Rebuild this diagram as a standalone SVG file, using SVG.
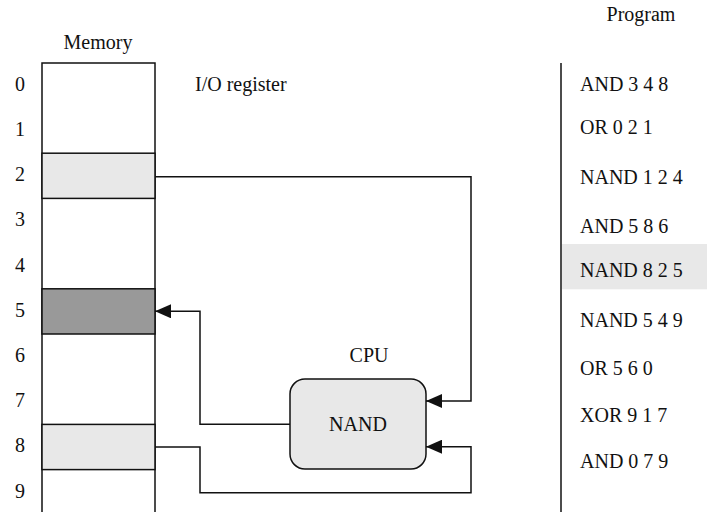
<svg xmlns="http://www.w3.org/2000/svg" width="707" height="512" viewBox="0 0 707 512">
<style>
text{font-family:'Liberation Serif','Times New Roman',Times,serif;font-size:20px;fill:#111}
.cell{stroke:#111;stroke-width:1.5}
.conn{fill:none;stroke:#111;stroke-width:1.5}
</style>
<defs>
<marker id="arr" viewBox="0 0 16 14" refX="16" refY="7" markerWidth="16" markerHeight="14" markerUnits="userSpaceOnUse" orient="auto">
<path d="M0,0 L16,7 L0,14 z" fill="#111"/>
</marker>
</defs>
<rect width="707" height="512" fill="#fff"/>
<g id="memory">
<text x="98" y="49" text-anchor="middle">Memory</text>
<rect x="42" y="63" width="113" height="460" fill="#fff" class="cell"/>
<rect id="cell2" x="42" y="153.2" width="113" height="45.2" fill="#e8e8e8" class="cell"/>
<rect id="cell5" x="42" y="288.8" width="113" height="45.2" fill="#999" class="cell"/>
<rect id="cell8" x="42" y="424.4" width="113" height="45.2" fill="#e8e8e8" class="cell"/>
<g text-anchor="middle">
<text x="20" y="90.7">0</text>
<text x="20" y="135.9">1</text>
<text x="20" y="181.1">2</text>
<text x="20" y="226.3">3</text>
<text x="20" y="271.5">4</text>
<text x="20" y="316.7">5</text>
<text x="20" y="361.9">6</text>
<text x="20" y="407.1">7</text>
<text x="20" y="452.3">8</text>
<text x="20" y="497.5">9</text>
</g>
</g>
<g id="io-label"><text x="195" y="91">I/O register</text></g>
<g id="cpu">
<text x="369" y="362" text-anchor="middle">CPU</text>
<rect x="290" y="379" width="136" height="90" rx="15" fill="#e8e8e8" stroke="#111" stroke-width="1.5"/>
<text x="358" y="431" text-anchor="middle">NAND</text>
</g>
<g id="program">
<text x="641" y="21" text-anchor="middle">Program</text>
<rect x="562" y="244" width="145" height="45.3" fill="#e8e8e8"/>
<line x1="561" y1="63" x2="561" y2="512" stroke="#111" stroke-width="1.5"/>
<text x="580" y="90.7">AND 3 4 8</text>
<text x="580" y="134.3">OR 0 2 1</text>
<text x="580" y="184.3">NAND 1 2 4</text>
<text x="580" y="232.7">AND 5 8 6</text>
<text x="580" y="276.7">NAND 8 2 5</text>
<text x="580" y="327.3">NAND 5 4 9</text>
<text x="580" y="375">OR 5 6 0</text>
<text x="580" y="421.7">XOR 9 1 7</text>
<text x="580" y="468.3">AND 0 7 9</text>
</g>
<g id="connectors">
<polyline class="conn" points="155,176.7 471,176.7 471,401 426,401" marker-end="url(#arr)"/>
<polyline class="conn" points="155,446.9 200,446.9 200,492.7 471,492.7 471,446.7 426,446.7" marker-end="url(#arr)"/>
<polyline class="conn" points="290,424.3 200,424.3 200,311.3 155,311.3" marker-end="url(#arr)"/>
</g>
</svg>
